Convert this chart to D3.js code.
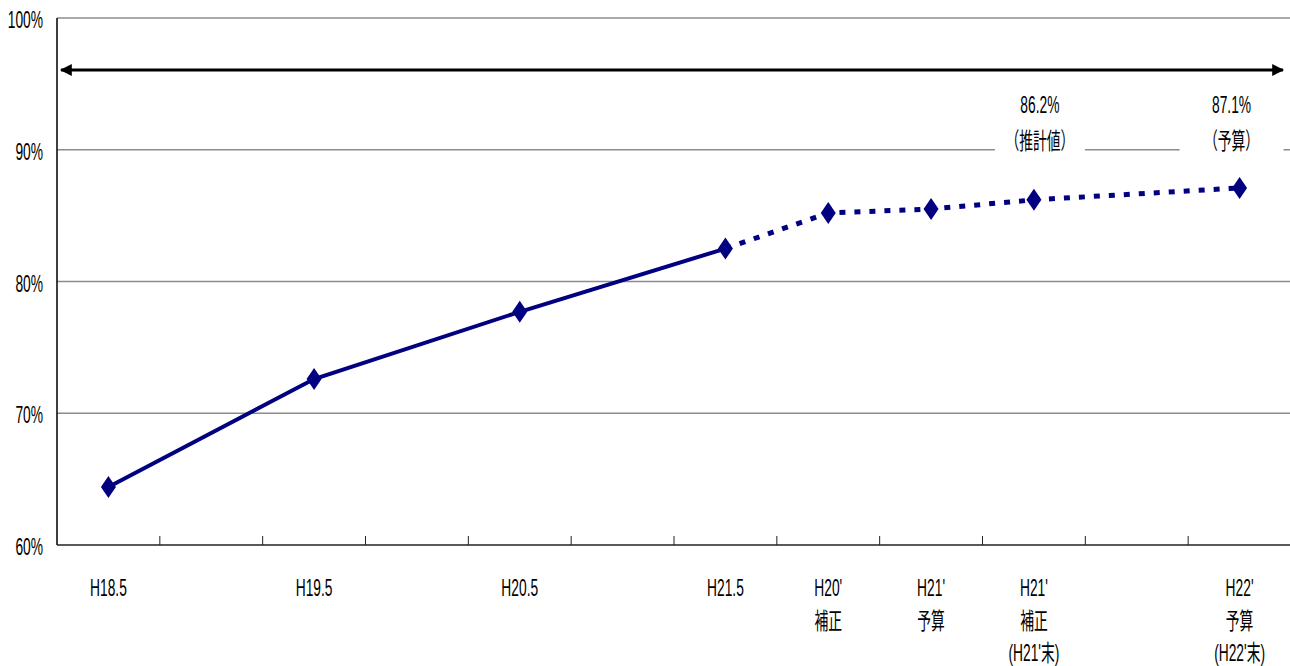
<!DOCTYPE html>
<html>
<head>
<meta charset="utf-8">
<script src="https://cdn.jsdelivr.net/npm/d3@7"></script>
<style>
  body { margin: 0; background: #fff; }
  text { font-family: "Liberation Sans", Arial, "Noto Sans CJK JP", sans-serif; fill: #000; }
</style>
</head>
<body>
<div id="chart"></div>
<script>
// 12 category slots; empty ones keep the spacing of the original chart
const slotLabels = [
  ['H18.5'], [], ['H19.5'], [], ['H20.5'], [], ['H21.5'],
  ["H20'", '補正'], ["H21'", '予算'], ["H21'", '補正', "(H21'末)"], [], ["H22'", '予算', "(H22'末)"]
];
const values = [64.4, null, 72.6, null, 77.7, null, 82.5, 85.2, 85.5, 86.2, null, 87.1];
const actualUntil = 6; // solid line up to H21.5, dotted after
const yTicks = [60, 70, 80, 90, 100];
const notes = [
  { slot: 9, lines: ['86.2%', '（推計値）'], dx: 6, w: 90 },
  { slot: 11, lines: ['87.1%', '（予算）'], dx: -8, w: 104 }
];

const W = 1290, H = 666;
const margin = { top: 18, right: 0, bottom: 121, left: 57 };
const SX = 0.6; // condensed text
const FS = 23;

const svg = d3.select('#chart').append('svg').attr('width', W).attr('height', H);

const x = d3.scaleBand().domain(d3.range(slotLabels.length)).range([margin.left, W + 1]);
const y = d3.scaleLinear().domain([60, 100]).range([H - margin.bottom, margin.top]);

function ctext(g, tx, ty, str, anchor) {
  return g.append('text')
    .attr('transform', `translate(${tx},${ty}) scale(${SX},1)`)
    .attr('text-anchor', anchor || 'middle')
    .style('font-size', FS + 'px')
    .text(str);
}

// gridlines
svg.append('g').selectAll('line').data(yTicks.filter(d => d > 60)).enter().append('line')
  .attr('x1', margin.left).attr('x2', W)
  .attr('y1', d => y(d)).attr('y2', d => y(d))
  .attr('stroke', '#8c8c8c').attr('stroke-width', 1.5);

// y labels
const yl = svg.append('g');
yTicks.forEach(t => ctext(yl, 43, y(t) + 10, t + '%', 'end'));

// axes
svg.append('line').attr('x1', margin.left).attr('x2', margin.left)
  .attr('y1', y(100)).attr('y2', y(60)).attr('stroke', '#000').attr('stroke-width', 1.5);
svg.append('line').attr('x1', margin.left).attr('x2', W)
  .attr('y1', y(60)).attr('y2', y(60)).attr('stroke', '#222').attr('stroke-width', 1.5);
svg.append('g').selectAll('line').data(d3.range(1, slotLabels.length)).enter().append('line')
  .attr('x1', d => x(d)).attr('x2', d => x(d))
  .attr('y1', y(60)).attr('y2', y(60) - 9)
  .attr('stroke', '#222').attr('stroke-width', 1);

// x labels
const xl = svg.append('g');
slotLabels.forEach((lines, i) => {
  lines.forEach((s, j) => ctext(xl, x(i) + x.bandwidth() / 2, y(60) + 51 + j * 32.5, s));
});

// double arrow
const defs = svg.append('defs');
defs.append('marker').attr('id', 'ah').attr('viewBox', '0 0 10 10')
  .attr('refX', 9).attr('refY', 5).attr('markerWidth', 4).attr('markerHeight', 4)
  .attr('orient', 'auto-start-reverse').attr('markerUnits', 'strokeWidth')
  .append('path').attr('d', 'M0,0 L10,5 L0,10 Z').attr('fill', '#000');
svg.append('line').attr('x1', margin.left + 4).attr('x2', W - 7)
  .attr('y1', 70).attr('y2', 70)
  .attr('stroke', '#000').attr('stroke-width', 3)
  .attr('marker-start', 'url(#ah)').attr('marker-end', 'url(#ah)');

// series
const pts = values.map((v, i) => ({ i, v })).filter(d => d.v != null);
const line = d3.line().x(d => x(d.i) + x.bandwidth() / 2).y(d => y(d.v));
svg.append('path').datum(pts.filter(d => d.i <= actualUntil))
  .attr('d', line).attr('fill', 'none').attr('stroke', '#000080').attr('stroke-width', 4);
svg.append('path').datum(pts.filter(d => d.i >= actualUntil))
  .attr('d', line).attr('fill', 'none').attr('stroke', '#000080').attr('stroke-width', 5)
  .attr('stroke-dasharray', '6,9');

svg.append('g').selectAll('path').data(pts).enter().append('path')
  .attr('transform', d => `translate(${x(d.i) + x.bandwidth() / 2},${y(d.v)})`)
  .attr('d', 'M0,-11 L7.5,0 L0,11 L-7.5,0 Z')
  .attr('fill', '#000080');

// notes with white boxes cutting the 90% gridline
notes.forEach(n => {
  const cx = x(n.slot) + x.bandwidth() / 2 + n.dx;
  const g = svg.append('g');
  g.append('rect').attr('x', cx - n.w / 2).attr('y', 92).attr('width', n.w).attr('height', 66)
    .attr('fill', '#fff');
  n.lines.forEach((s, j) => ctext(g, cx, 113 + j * 36, s));
});
</script>
</body>
</html>
